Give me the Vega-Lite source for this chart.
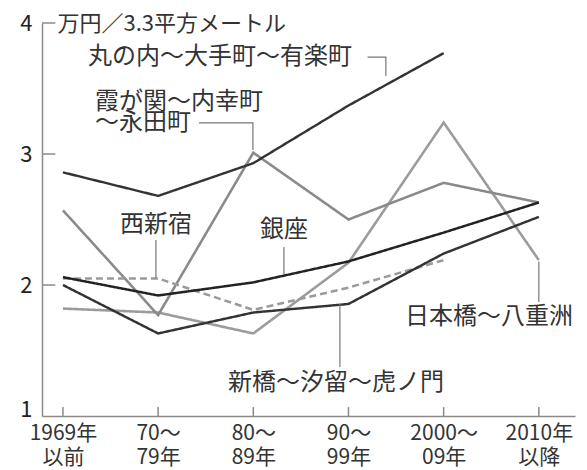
{
  "$schema": "https://vega.github.io/schema/vega-lite/v6.json",
  "width": 533,
  "height": 393,
  "autosize": {"type": "none"},
  "padding": {"left": 42, "top": 23, "right": 12, "bottom": 54},
  "background": "white",
  "config": {"view": {"stroke": null}, "font": "Noto Sans CJK JP"},
  "datasets": {
    "series": [
      {"area": "日本橋～八重洲", "t": 0, "v": 1.82},
      {"area": "日本橋～八重洲", "t": 1, "v": 1.79},
      {"area": "日本橋～八重洲", "t": 2, "v": 1.63},
      {"area": "日本橋～八重洲", "t": 3, "v": 2.17},
      {"area": "日本橋～八重洲", "t": 4, "v": 3.24},
      {"area": "日本橋～八重洲", "t": 5, "v": 2.19},
      {"area": "霞が関～内幸町～永田町", "t": 0, "v": 2.57},
      {"area": "霞が関～内幸町～永田町", "t": 1, "v": 1.77},
      {"area": "霞が関～内幸町～永田町", "t": 2, "v": 3.01},
      {"area": "霞が関～内幸町～永田町", "t": 3, "v": 2.5},
      {"area": "霞が関～内幸町～永田町", "t": 4, "v": 2.78},
      {"area": "霞が関～内幸町～永田町", "t": 5, "v": 2.63},
      {"area": "西新宿", "t": 0, "v": 2.05},
      {"area": "西新宿", "t": 1, "v": 2.05},
      {"area": "西新宿", "t": 2, "v": 1.81},
      {"area": "西新宿", "t": 3, "v": 1.98},
      {"area": "西新宿", "t": 4, "v": 2.19},
      {"area": "銀座", "t": 0, "v": 2.06},
      {"area": "銀座", "t": 1, "v": 1.92},
      {"area": "銀座", "t": 2, "v": 2.02},
      {"area": "銀座", "t": 3, "v": 2.18},
      {"area": "銀座", "t": 4, "v": 2.4},
      {"area": "銀座", "t": 5, "v": 2.63},
      {"area": "新橋～汐留～虎ノ門", "t": 0, "v": 2.0},
      {"area": "新橋～汐留～虎ノ門", "t": 1, "v": 1.63},
      {"area": "新橋～汐留～虎ノ門", "t": 2, "v": 1.79},
      {"area": "新橋～汐留～虎ノ門", "t": 3, "v": 1.855},
      {"area": "新橋～汐留～虎ノ門", "t": 4, "v": 2.24},
      {"area": "新橋～汐留～虎ノ門", "t": 5, "v": 2.52},
      {"area": "丸の内～大手町～有楽町", "t": 0, "v": 2.86},
      {"area": "丸の内～大手町～有楽町", "t": 1, "v": 2.68},
      {"area": "丸の内～大手町～有楽町", "t": 2, "v": 2.93},
      {"area": "丸の内～大手町～有楽町", "t": 3, "v": 3.37},
      {"area": "丸の内～大手町～有楽町", "t": 4, "v": 3.77}
    ],
    "leaders": [
      {"id": "丸の内", "k": 0, "t": 3.2, "v": 3.74},
      {"id": "丸の内", "k": 1, "t": 3.393, "v": 3.74},
      {"id": "丸の内", "k": 2, "t": 3.393, "v": 3.595},
      {"id": "霞が関", "k": 0, "t": 1.43, "v": 3.237},
      {"id": "霞が関", "k": 1, "t": 1.996, "v": 3.237},
      {"id": "霞が関", "k": 2, "t": 1.996, "v": 3.031},
      {"id": "西新宿", "k": 0, "t": 0.977, "v": 2.344},
      {"id": "西新宿", "k": 1, "t": 0.977, "v": 2.053},
      {"id": "銀座", "k": 0, "t": 2.322, "v": 2.29},
      {"id": "銀座", "k": 1, "t": 2.322, "v": 2.084},
      {"id": "日本橋", "k": 0, "t": 5.0, "v": 2.18},
      {"id": "日本橋", "k": 1, "t": 5.0, "v": 1.87},
      {"id": "新橋", "k": 0, "t": 2.91, "v": 1.855},
      {"id": "新橋", "k": 1, "t": 2.91, "v": 1.374}
    ],
    "labels": [
      {"label": "丸の内～大手町～有楽町", "t": 0.263, "v": 3.74},
      {"label": "霞が関～内幸町", "t": 0.337, "v": 3.397},
      {"label": "～永田町", "t": 0.337, "v": 3.237},
      {"label": "西新宿", "t": 0.599, "v": 2.458},
      {"label": "銀座", "t": 2.07, "v": 2.42},
      {"label": "日本橋～八重洲", "t": 3.593, "v": 1.756},
      {"label": "新橋～汐留～虎ノ門", "t": 1.734, "v": 1.252}
    ],
    "xticks": [
      {"t": 0}, {"t": 1}, {"t": 2}, {"t": 3}, {"t": 4}, {"t": 5}
    ],
    "yticks": [
      {"v": 2}, {"v": 3}, {"v": 4}
    ]
  },
  "layer": [
    {
      "data": {"name": "series"},
      "mark": {"type": "line", "strokeCap": "butt", "strokeJoin": "miter"},
      "encoding": {
        "x": {
          "field": "t",
          "type": "quantitative",
          "scale": {"domain": [-0.22, 5.38], "nice": false, "zero": false},
          "axis": {
            "title": null,
            "values": [0, 1, 2, 3, 4, 5],
            "grid": false,
            "domainColor": "#8a8a8a",
            "domainWidth": 1.5,
            "ticks": false,
            "labelExpr": "[['1969年','以前　'],['70～','79年'],['80～','89年'],['90～','99年'],['2000～','09年　'],['2010年','以降　']][datum.value]",
            "labelFontSize": 21,
            "labelColor": "#333333",
            "labelLineHeight": 24,
            "labelBaseline": "top",
            "labelPadding": 6,
            "labelFlush": false,
            "labelOverlap": false
          }
        },
        "y": {
          "field": "v",
          "type": "quantitative",
          "scale": {"domain": [1, 4], "nice": false, "zero": false},
          "axis": {
            "title": "万円／3.3平方メートル",
            "titleAngle": 0,
            "titleX": 15,
            "titleY": 0,
            "titleAlign": "left",
            "titleBaseline": "middle",
            "titleFontSize": 22,
            "titleFontWeight": "normal",
            "titleColor": "#333333",
            "values": [1, 2, 3, 4],
            "format": "d",
            "grid": false,
            "domainColor": "#8a8a8a",
            "domainWidth": 1.5,
            "ticks": false,
            "labelFontSize": 22,
            "labelColor": "#222222",
            "labelPadding": 10,
            "labelFlush": false,
            "labelBaseline": {"condition": {"test": "datum.value === 1", "value": "alphabetic"}, "value": "middle"}
          }
        },
        "detail": {"field": "area", "type": "nominal"},
        "color": {
          "field": "area",
          "type": "nominal",
          "legend": null,
          "scale": {
            "domain": ["日本橋～八重洲", "霞が関～内幸町～永田町", "西新宿", "銀座", "新橋～汐留～虎ノ門", "丸の内～大手町～有楽町"],
            "range": ["#9c9c9c", "#8a8a8a", "#9a9a9a", "#222222", "#333333", "#333333"]
          }
        },
        "strokeWidth": {
          "field": "area",
          "type": "nominal",
          "legend": null,
          "scale": {
            "domain": ["日本橋～八重洲", "霞が関～内幸町～永田町", "西新宿", "銀座", "新橋～汐留～虎ノ門", "丸の内～大手町～有楽町"],
            "range": [2.6, 2.4, 1.5, 1.8, 3.4, 3.4]
          }
        },
        "strokeDash": {
          "field": "area",
          "type": "nominal",
          "legend": null,
          "scale": {
            "domain": ["日本橋～八重洲", "霞が関～内幸町～永田町", "西新宿", "銀座", "新橋～汐留～虎ノ門", "丸の内～大手町～有楽町"],
            "range": [[1, 0], [1, 0], [7, 4], [1, 0], [1, 0], [1, 0]]
          }
        }
      }
    },
    {
      "data": {"name": "xticks"},
      "mark": {"type": "rule", "color": "#8a8a8a", "strokeWidth": 1.5},
      "encoding": {
        "x": {"field": "t", "type": "quantitative"},
        "y": {"datum": 1, "type": "quantitative"},
        "y2": {"datum": 1.068}
      }
    },
    {
      "data": {"name": "yticks"},
      "mark": {"type": "rule", "color": "#8a8a8a", "strokeWidth": 1.5},
      "encoding": {
        "x": {"datum": -0.22, "type": "quantitative"},
        "x2": {"datum": -0.08},
        "y": {"field": "v", "type": "quantitative"}
      }
    },
    {
      "data": {"name": "leaders"},
      "mark": {"type": "line", "color": "#777777", "strokeWidth": 1.2, "strokeJoin": "miter"},
      "encoding": {
        "x": {"field": "t", "type": "quantitative"},
        "y": {"field": "v", "type": "quantitative"},
        "detail": {"field": "id", "type": "nominal"},
        "order": {"field": "k", "type": "quantitative"}
      }
    },
    {
      "data": {"name": "labels"},
      "mark": {"type": "text", "align": "left", "baseline": "middle", "fontSize": 24, "color": "#333333"},
      "encoding": {
        "x": {"field": "t", "type": "quantitative"},
        "y": {"field": "v", "type": "quantitative"},
        "text": {"field": "label", "type": "nominal"}
      }
    }
  ]
}
